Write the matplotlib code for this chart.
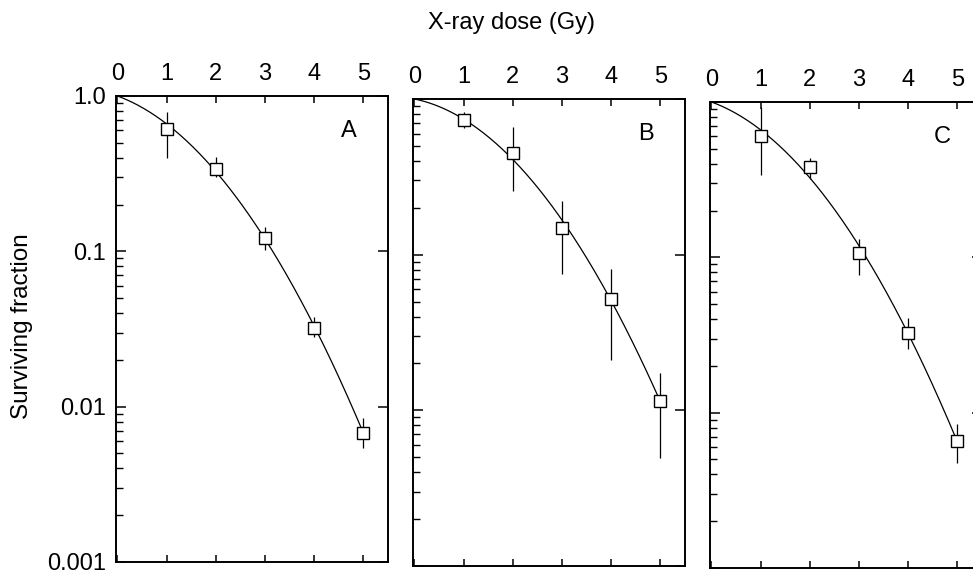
import numpy as np
import matplotlib
matplotlib.use("Agg")
from matplotlib import pyplot as plt
from matplotlib.ticker import LogLocator, NullFormatter, FixedLocator

plt.rcParams['font.family'] = ['Liberation Sans', 'DejaVu Sans']

dose = [1, 2, 3, 4, 5]
panels = ['A', 'B', 'C']

# surviving fraction, with error bar ends
sf_a = [0.615, 0.341, 0.122, 0.0323, 0.00678]
lo_a = [0.40, 0.30, 0.102, 0.0279, 0.00543]
hi_a = [0.79, 0.407, 0.143, 0.038, 0.00845]

sf_b = [0.733, 0.451, 0.149, 0.0522, 0.0114]
lo_b = [0.652, 0.257, 0.0755, 0.0209, 0.00492]
hi_b = [0.826, 0.662, 0.222, 0.0813, 0.0175]

sf_c = [0.607, 0.38, 0.106, 0.0328, 0.00653]
lo_c = [0.338, 0.318, 0.0767, 0.0256, 0.00473]
hi_c = [0.93, 0.433, 0.132, 0.0408, 0.0085]

y_labels = ['0.001', '0.01', '0.1', '1.0']

fig = plt.figure(figsize=(9.73, 5.76), dpi=100)
W, H = 973.0, 576.0
# left, top, bottom in pixels
boxes = [(116, 96, 562), (413, 99, 566), (710, 102, 568)]
all_sf = [sf_a, sf_b, sf_c]
all_lo = [lo_a, lo_b, lo_c]
all_hi = [hi_a, hi_b, hi_c]

for i, name in enumerate(panels):
    left, top, bottom = boxes[i]
    ax = fig.add_axes([left / W, 1 - bottom / H, 272 / W, (bottom - top) / H])
    x = np.array(dose, dtype=float)
    sf = np.array(all_sf[i])
    lo = np.array(all_lo[i])
    hi = np.array(all_hi[i])

    # linear-quadratic fit through S(0)=1
    A = np.column_stack([x, x ** 2])
    coef = np.linalg.lstsq(A, -np.log(sf), rcond=None)[0]
    xx = np.linspace(0, 5, 200)
    ax.plot(xx, np.exp(-coef[0] * xx - coef[1] * xx ** 2), color='black', lw=0.9, zorder=2)

    ax.vlines(x, lo, hi, color='black', lw=0.9, zorder=2)
    ax.plot(x, sf, 's', ms=9, mfc='white', mec='black', mew=1.0, zorder=3)

    ax.set_yscale('log')
    ax.set_ylim(1e-3, 1.0)
    ax.set_xlim(-0.03, 5.5)

    ax.set_xticks([0, 1, 2, 3, 4, 5])
    ax.tick_params(axis='x', which='major', direction='in', top=True, bottom=True,
                   labeltop=True, labelbottom=False, length=5, width=1.1, pad=8,
                   labelsize=17)
    ax.yaxis.set_major_locator(FixedLocator([1e-3, 1e-2, 1e-1, 1.0]))
    ax.yaxis.set_minor_locator(LogLocator(base=10, subs=np.arange(2, 10)))
    ax.yaxis.set_minor_formatter(NullFormatter())
    ax.tick_params(axis='y', which='major', direction='in', left=True, right=True,
                   length=7, width=1.1, pad=7, labelsize=17)
    ax.tick_params(axis='y', which='minor', direction='in', left=True, right=False,
                   length=5, width=1.0)
    if i == 0:
        ax.set_yticklabels(y_labels)
    else:
        ax.set_yticklabels([])

    for s in ax.spines.values():
        s.set_linewidth(1.4)

    ax.text(0.855, 0.925, name, transform=ax.transAxes, fontsize=17,
            ha='center', va='center')

fig.text(22 / W, 1 - 326 / H, 'Surviving fraction', rotation=90,
         ha='center', va='center', fontsize=17.5)
fig.text(512 / W, 1 - 23 / H, 'X-ray dose (Gy)', ha='center', va='center', fontsize=17)

fig.savefig('out.png', dpi=100)
